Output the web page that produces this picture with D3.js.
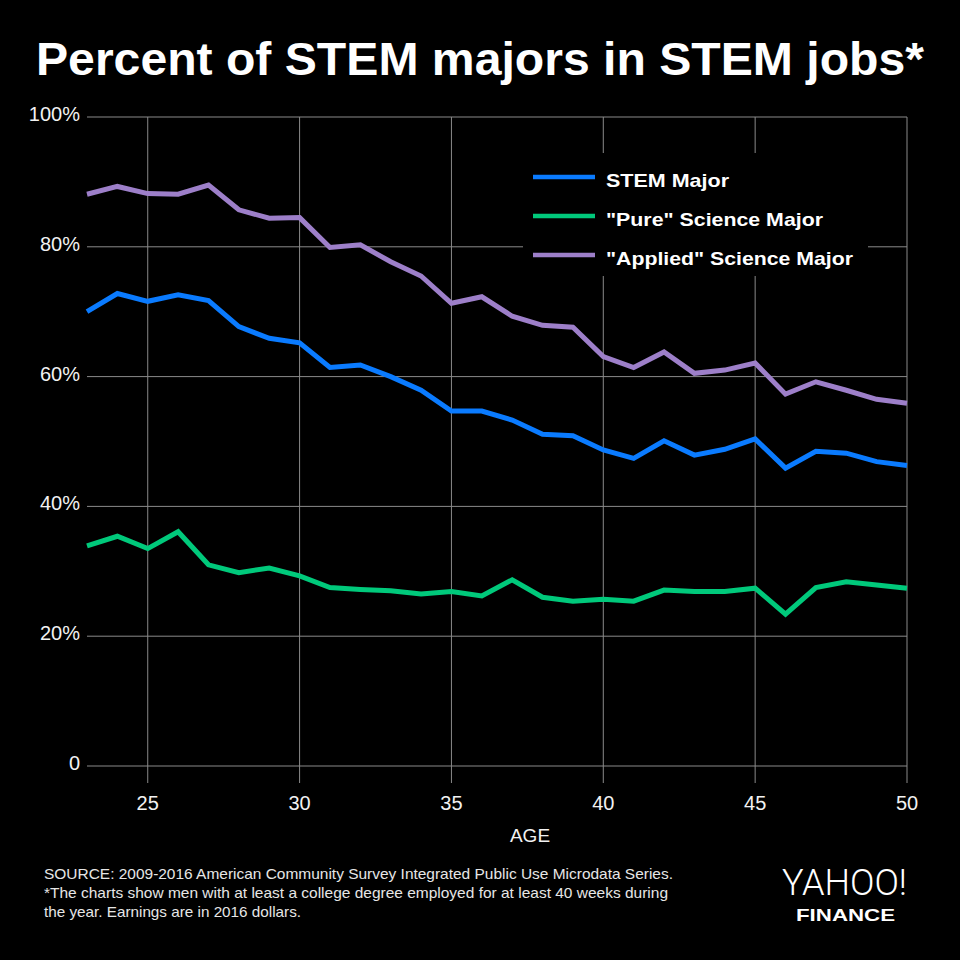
<!DOCTYPE html>
<html><head><meta charset="utf-8">
<script src="https://cdn.jsdelivr.net/npm/d3@7"></script>
<style>
html,body{margin:0;padding:0;background:#000;}
svg{display:block;}
</style></head>
<body>
<script>
const ages = d3.range(23, 51);
const stemMajor = [70.0,72.8,71.6,72.6,71.7,67.7,65.9,65.2,61.4,61.8,60.0,57.9,54.7,54.7,53.3,51.1,50.9,48.7,47.4,50.1,47.9,48.8,50.4,45.9,48.5,48.2,46.9,46.3];
const pureScience = [33.9,35.4,33.5,36.1,31.0,29.8,30.5,29.3,27.5,27.2,27.0,26.5,26.9,26.2,28.7,26.0,25.4,25.7,25.4,27.1,26.9,26.9,27.4,23.4,27.5,28.4,27.9,27.4];
const appliedScience = [88.1,89.3,88.2,88.1,89.5,85.7,84.4,84.5,79.9,80.3,77.7,75.5,71.3,72.3,69.3,67.9,67.6,63.1,61.4,63.8,60.5,61.0,62.1,57.3,59.2,57.9,56.5,55.9];
const seriesNames = ["STEM Major", "\"Pure\" Science Major", "\"Applied\" Science Major"];
const seriesColors = ["#0a7bff", "#00c97b", "#9d7fc9"];
const xTicks = [25, 30, 35, 40, 45, 50];
const yTicks = [0, 20, 40, 60, 80, 100];
const yTickLabels = ["0", "20%", "40%", "60%", "80%", "100%"];
const titleText = "Percent of STEM majors in STEM jobs*";
const xAxisTitle = "AGE";
const footnotes = [
  "SOURCE: 2009-2016 American Community Survey Integrated Public Use Microdata Series.",
  "*The charts show men with at least a college degree employed for at least 40 weeks during",
  "the year. Earnings are in 2016 dollars."
];

const W = 960, H = 960;
const FONT = "Liberation Sans, Arial, Helvetica, sans-serif";
const svg = d3.select("body").append("svg").attr("width", W).attr("height", H);
svg.append("rect").attr("width", W).attr("height", H).attr("fill", "#000");

const x = d3.scaleLinear().domain([23, 50]).range([87, 907]);
const y = d3.scaleLinear().domain([0, 100]).range([766, 117]);

// title
svg.append("text").attr("x", 480).attr("y", 75).attr("text-anchor", "middle")
  .attr("fill", "#fff").attr("font-family", FONT)
  .attr("font-weight", "bold").attr("font-size", 47).attr("textLength", 888)
  .attr("lengthAdjust", "spacingAndGlyphs").text(titleText);

const grid = svg.append("g");
grid.selectAll("line.h").data(yTicks).join("line").attr("class", "h")
  .attr("x1", 87).attr("x2", 907).attr("y1", d => y(d)).attr("y2", d => y(d))
  .attr("stroke", "#8a8a8a").attr("stroke-width", 1);
grid.selectAll("line.v").data(xTicks).join("line").attr("class", "v")
  .attr("x1", d => x(d)).attr("x2", d => x(d)).attr("y1", y(100)).attr("y2", 783)
  .attr("stroke", "#8a8a8a").attr("stroke-width", 1);

// y labels
svg.selectAll("text.yl").data(yTicks).join("text").attr("class", "yl")
  .attr("x", 80).attr("y", d => y(d) + 4).attr("text-anchor", "end")
  .attr("fill", "#f2f2f2").attr("font-family", FONT)
  .attr("font-size", 20).text((d, i) => yTickLabels[i]);

// x labels
svg.selectAll("text.xl").data(xTicks).join("text").attr("class", "xl")
  .attr("x", d => x(d)).attr("y", 810).attr("text-anchor", "middle")
  .attr("fill", "#f2f2f2").attr("font-family", FONT)
  .attr("font-size", 20).text(d => d);

svg.append("text").attr("x", 530).attr("y", 842).attr("text-anchor", "middle")
  .attr("fill", "#f2f2f2").attr("font-family", FONT)
  .attr("font-size", 19).text(xAxisTitle);

// legend background
const legend = svg.append("g");
legend.append("rect").attr("x", 523).attr("y", 153).attr("width", 345).attr("height", 123).attr("fill", "#000");

// lines
const allSeries = [stemMajor, pureScience, appliedScience];
const line = d3.line().x((d, i) => x(ages[i])).y(d => y(d));
[1, 0, 2].forEach(k => {
  svg.append("path").datum(allSeries[k]).attr("d", line).attr("fill", "none")
    .attr("stroke", seriesColors[k]).attr("stroke-width", 5)
    .attr("stroke-linejoin", "miter").attr("stroke-linecap", "butt");
});

// legend items
const legendLineY = [177, 216, 255];
const legendTextLen = [123, 217, 247];
seriesNames.forEach((name, i) => {
  legend.append("line").attr("x1", 533).attr("x2", 595).attr("y1", legendLineY[i]).attr("y2", legendLineY[i])
    .attr("stroke", seriesColors[i]).attr("stroke-width", 4.5);
  legend.append("text").attr("x", 606).attr("y", legendLineY[i] + 9.5)
    .attr("fill", "#fff").attr("font-family", FONT)
    .attr("font-weight", "bold").attr("font-size", 18.5)
    .attr("textLength", legendTextLen[i]).attr("lengthAdjust", "spacingAndGlyphs").text(name);
});

// footnotes
const fnLen = [629, 624, 257];
svg.selectAll("text.fn").data(footnotes).join("text").attr("class", "fn")
  .attr("x", 44).attr("y", (d, i) => 879 + i * 19)
  .attr("fill", "#e6e6e6").attr("font-family", FONT)
  .attr("font-size", 14.5).attr("textLength", (d, i) => fnLen[i])
  .attr("lengthAdjust", "spacingAndGlyphs").text(d => d);

// logo
svg.append("text").attr("x", 782).attr("y", 895).attr("fill", "#fff")
  .attr("font-family", "Roboto, Liberation Sans, sans-serif").attr("font-weight", 300)
  .attr("font-size", 36).attr("textLength", 125).attr("lengthAdjust", "spacingAndGlyphs").text("YAHOO!");
svg.append("text").attr("x", 796).attr("y", 921).attr("fill", "#fff")
  .attr("font-family", FONT)
  .attr("font-weight", "bold").attr("font-size", 17).attr("textLength", 99).attr("lengthAdjust", "spacingAndGlyphs").text("FINANCE");
</script>
</body></html>
